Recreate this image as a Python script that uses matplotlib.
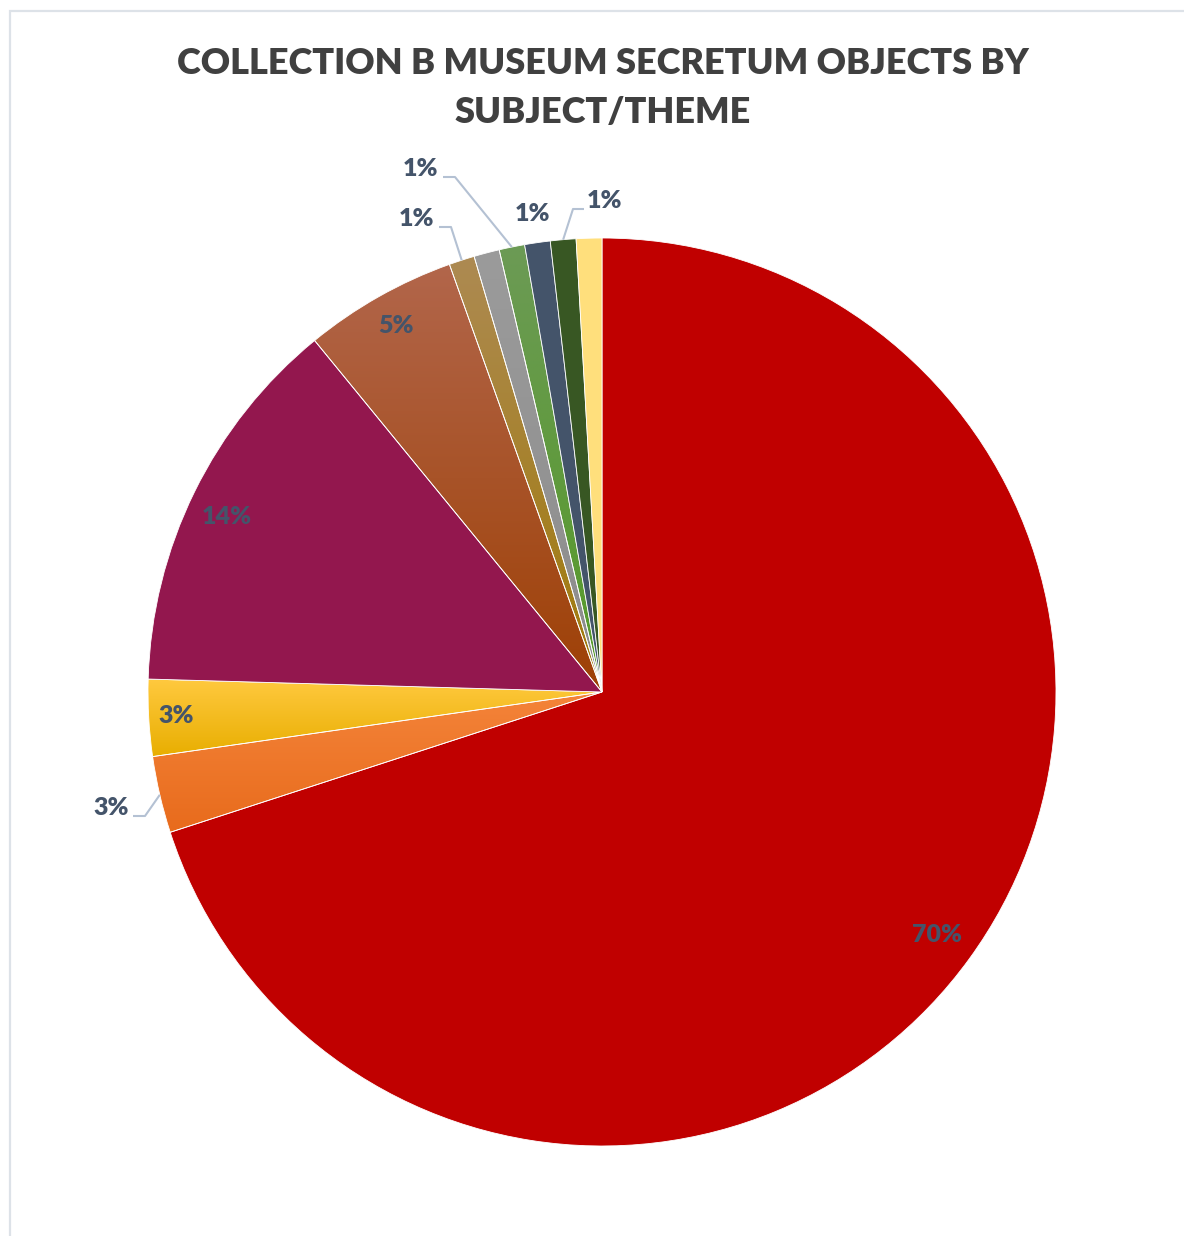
import numpy as np
import matplotlib
matplotlib.use("Agg")
import matplotlib.pyplot as plt
from matplotlib.colors import LinearSegmentedColormap
from matplotlib.patches import Rectangle

# Object counts per subject/theme, clockwise from 12 o'clock
values = [77, 3, 3, 15, 6, 1, 1, 1, 1, 1, 1]

# Fill colours: (top, bottom) of a vertical gradient; equal pair = solid fill
fill_top = ["#C00000", "#F4843A", "#FFC93F", "#93174E", "#B2664B",
            "#AD8A52", "#9B9B9B", "#6C9A55", "#44546A", "#385723", "#FFDF7C"]
fill_bottom = ["#C00000", "#E86B1C", "#E8AE00", "#93174E", "#9E4005",
               "#A07A08", "#8C8C8C", "#559A28", "#44546A", "#385723", "#FFDF7C"]

title = "COLLECTION B MUSEUM SECRETUM OBJECTS BY\nSUBJECT/THEME"

W, H = 1184, 1236
fig = plt.figure(figsize=(W / 100, H / 100), dpi=100)
ax = fig.add_axes([0, 0, 1, 1])

CX, CY, R = 602, H - 692, 454

wedges, _ = ax.pie(values, colors=fill_top, startangle=90, counterclock=False,
                   radius=R, center=(CX, CY),
                   wedgeprops=dict(edgecolor="white", linewidth=0.6))

# Gradient fills clipped to their wedge
grad = np.linspace(0, 1, 256).reshape(-1, 1)
for w, top, bot in zip(wedges, fill_top, fill_bottom):
    if top == bot:
        continue
    bb = w.get_path().get_extents()
    cmap = LinearSegmentedColormap.from_list("g", [top, bot])
    im = ax.imshow(grad, cmap=cmap, extent=(bb.x0, bb.x1, bb.y0, bb.y1),
                   origin="upper", aspect="auto", interpolation="bilinear",
                   zorder=w.get_zorder() - 0.01)
    im.set_clip_path(w)
    w.set_facecolor("none")

ax.set_xlim(0, W)
ax.set_ylim(0, H)
ax.set_aspect("equal")
ax.axis("off")

# Label layout: ("in", radial fraction), ("at", (x, y) pixel centre) or
# ("out", (x, y) pixel centre, leader side)
label_layout = [("in", 0.912), ("out", (111, 808), "left"), ("in", 0.94),
                ("at", (227, 517)), ("in", 0.925), ("out", (417, 219), "left"),
                None, ("out", (421, 169), "left"), ("out", (533, 214), None),
                ("out", (605, 201), "right"), None]

label_color = "#44546A"
leader_color = "#B4C1D3"
font_kw = dict(family="Lato", weight="heavy", fontsize=18, color=label_color,
               ha="center", va="center")

total = sum(values)
cum = 0
for v, lay in zip(values, label_layout):
    mid = np.deg2rad(90 - 360 * (cum + v / 2) / total)
    cum += v
    if lay is None:
        continue
    text = f"{100 * v / total:.0f}%"
    if lay[0] == "in":
        f = lay[1]
        ax.text(CX + f * R * np.cos(mid), CY + f * R * np.sin(mid), text, **font_kw)
    elif lay[0] == "at":
        px, py = lay[1]
        ax.text(px, H - py, text, **font_kw)
    else:
        px, py = lay[1]
        side = lay[2]
        ax.text(px, H - py, text, **font_kw)
        if side is None:
            continue
        ex, ey = CX + R * np.cos(mid), CY + R * np.sin(mid)
        ly = H - (py + 8)
        if side == "left":
            x0 = px + 22
            x1 = x0 + 12
        else:
            x0 = px - 21
            x1 = x0 - 11
        ax.plot([x0, x1, ex], [ly, ly, ey], color=leader_color, lw=1.5,
                solid_capstyle="butt", zorder=5)

fig.text(603 / W, 1 - 88 / H, title, family="Lato", weight="heavy", fontsize=26,
         color="#404040", ha="center", va="center", linespacing=1.62)

# Chart area frame
fig.add_artist(Rectangle((9.5 / W, -0.1), 1.2, 1 - 11 / H + 0.1,
                         transform=fig.transFigure, fill=False,
                         edgecolor="#DDE2E8", lw=1.6))

fig.savefig("out.png", dpi=100, facecolor="white")
